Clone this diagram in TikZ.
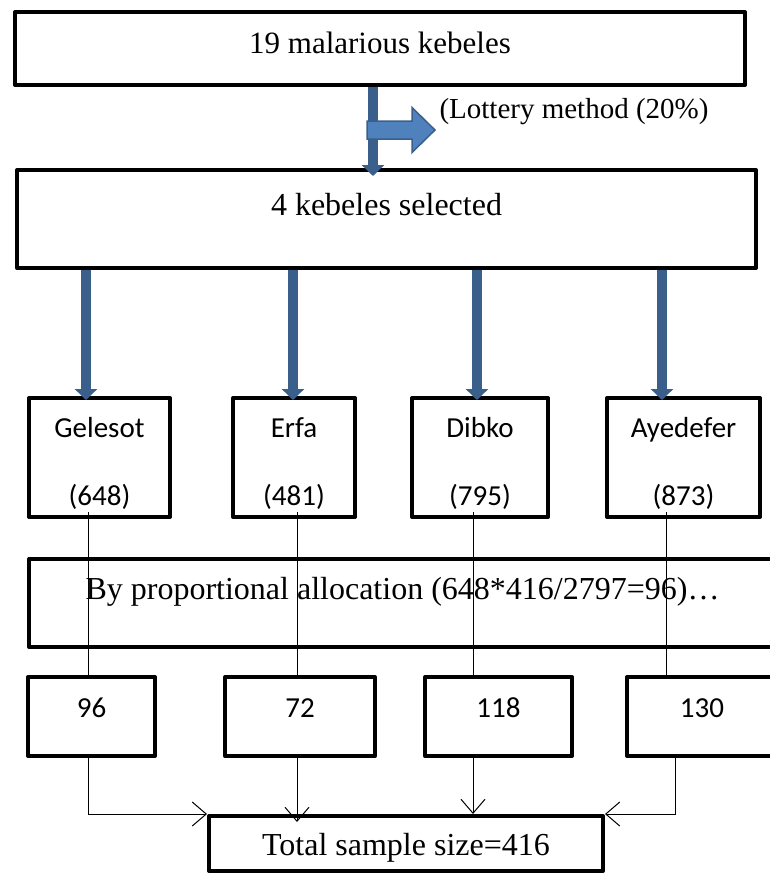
\documentclass[tikz,border=0pt]{standalone}
\usepackage{fontspec}
\setmainfont{Liberation Serif}
\newfontfamily\calibri{Carlito}
\usetikzlibrary{arrows.meta}
\definecolor{arrowblue}{HTML}{3A5F8B}
\definecolor{fillblue}{HTML}{4F81BD}

\begin{document}
\begin{tikzpicture}[x=1pt, y=-1pt]
	\tikzstyle{panel} = [draw, line width=4pt, line join=round, inner sep=0pt]
	\tikzstyle{serif} = [anchor=base, inner sep=3pt, font=\fontsize{32}{38}\selectfont]
	\tikzstyle{sans} = [anchor=base, inner sep=3pt, font=\calibri\fontsize{29}{35}\selectfont]
	\tikzstyle{bluearrow} = [arrowblue, line width=10pt, -{Triangle[length=11pt, width=22pt]}]
	\tikzstyle{thinline} = [line width=0.9pt, -{Straight Barb[length=14pt, width=24pt, line width=1pt]}]
	\clip (0,0) rectangle (770,876);
	% boxes
	\node[panel, minimum width=730, minimum height=73] (malaria) at (380,48.5) {};
	\node[panel, minimum width=739, minimum height=98] (kebeles) at (386.5,219) {};
	\node[panel, minimum width=141, minimum height=119] (gelesot) at (99.5,457.5) {};
	\node[panel, minimum width=122, minimum height=119] (erfa) at (294,457.5) {};
	\node[panel, minimum width=136, minimum height=119] (dibko) at (480,457.5) {};
	\node[panel, minimum width=153, minimum height=119] (ayedefer) at (683.5,457.5) {};
	\node[panel, minimum width=747, minimum height=88] (allocation) at (402.5,603) {};
	\node[panel, minimum width=127, minimum height=79] (n96) at (91.5,716.5) {};
	\node[panel, minimum width=150, minimum height=79] (n72) at (300,716.5) {};
	\node[panel, minimum width=147, minimum height=79] (n118) at (498.5,716.5) {};
	\node[panel, minimum width=150, minimum height=79] (n130) at (702,716.5) {};
	\node[panel, minimum width=394, minimum height=55] (total) at (406,843.5) {};
	% texts
	\node[serif, font=\fontsize{31}{37}\selectfont] (malaria-text) at ([yshift=-4.5pt]malaria.center) {19 malarious kebeles};
	\node[serif] (kebeles-text) at ([yshift=4pt]kebeles.center) {4 kebeles selected};
	\node[serif, font=\fontsize{29}{35}\selectfont] (lottery) at (574,118) {(Lottery method (20\%)};
	\node[serif] (allocation-text) at ([yshift=4pt]allocation.center) {By proportional allocation (648*416/2797=96)…};
	\node[serif] (total-text) at ([yshift=-11.5pt]total.center) {Total sample size=416};
	\foreach \k/\name/\size in {gelesot/Gelesot/648, erfa/Erfa/481, dibko/Dibko/795, ayedefer/Ayedefer/873} {
		\node[sans] (\k-name) at ([yshift=20.5pt]\k.center) {\name};
		\node[sans] (\k-size) at ([yshift=-47.5pt]\k.center) {(\size)};
	}
	\foreach \n/\val in {n96/96, n72/72, n118/118, n130/130}
		\node[sans] (\n-text) at ([yshift=-0.5pt]\n.center) {\val};
	% thin connectors
	\foreach \k/\n/\x in {gelesot/n96/88, erfa/n72/297, dibko/n118/473, ayedefer/n130/666}
		\draw[line width=0.9pt] (\x,0 |- \k-size.south) -- (\x,0 |- \n.north);
	\draw[thinline] (88,0 |- n96.south) |- (total.north west);
	\draw[thinline, shorten >=-8pt] (297,0 |- n72.south) -- (297,0 |- total.north);
	\draw[thinline] (473,0 |- n118.south) -- (473,0 |- total.north);
	\draw[thinline] (675,0 |- n130.south) |- (total.north east);
	% blue arrows
	\draw[bluearrow, shorten >=-8pt] (373,0 |- malaria.south) -- (373,0 |- kebeles.north);
	\foreach \k/\x in {gelesot/86, erfa/293, dibko/477, ayedefer/662}
		\draw[bluearrow, shorten >=-4pt] (\x,0 |- kebeles.south) -- (\x,0 |- \k.north);
	\draw[fill=fillblue, draw=arrowblue, line width=1.5pt, line join=miter]
		(367,121) -- (412,121) -- (412,107.5) -- (435,130) -- (412,152.5) -- (412,139) -- (367,139) -- cycle;
\end{tikzpicture}
\end{document}
